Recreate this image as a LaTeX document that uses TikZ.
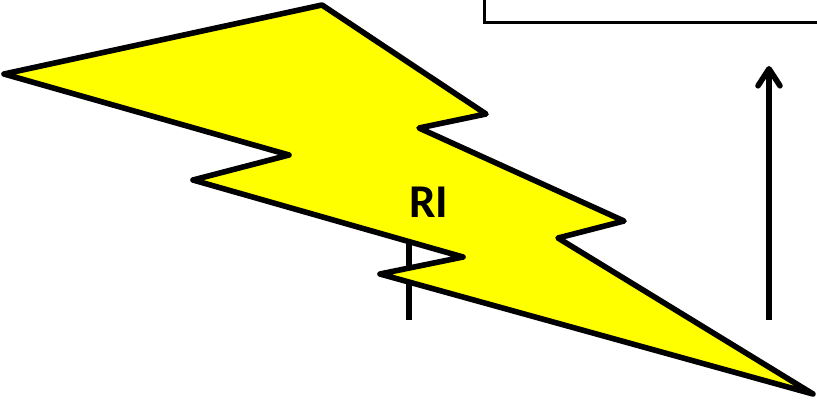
\documentclass[tikz,border=0pt]{standalone}
\usepackage{fontspec}
\setmainfont{Carlito}
\usetikzlibrary{positioning,arrows.meta}
\definecolor{boltyellow}{RGB}{255,255,0}
\begin{document}
\begin{tikzpicture}[x=1pt,y=-1pt,>={Straight Barb[length=17pt,width=22pt,line cap=round,round]},
  bolt/.style={draw=black,line width=5.6pt,line join=round,fill=boltyellow},
  wire/.style={draw=black,line width=5.6pt},
  panel/.style={draw=black,line width=3pt,minimum width=360pt,minimum height=60pt,anchor=south west,inner sep=0pt,outer sep=0pt},
  tag/.style={font=\fontsize{47}{47}\selectfont\bfseries,inner sep=0pt}]
\useasboundingbox (0,0) rectangle (817,400);
\clip (0,0) rectangle (817,400);
\coordinate (w1) at (409,240);
\coordinate (w2) at (409,320);
\coordinate (a1) at (769,320);
\coordinate (a2) at (769,66);
\node[panel] (ctrl) at (484.5,22) {};
\draw[wire] (w1)--(w2);
\draw[wire,->] (a1)--(a2);
\draw[bolt] (322,5)--(486,114)--(419,128)--(624,221)--(558,238)--(813,394)--(380,274)
  --(463,257)--(193,180)--(289,155)--(4,74)--cycle;
\node[tag] (ri) at (429,202) {RI};
\end{tikzpicture}
\end{document}
